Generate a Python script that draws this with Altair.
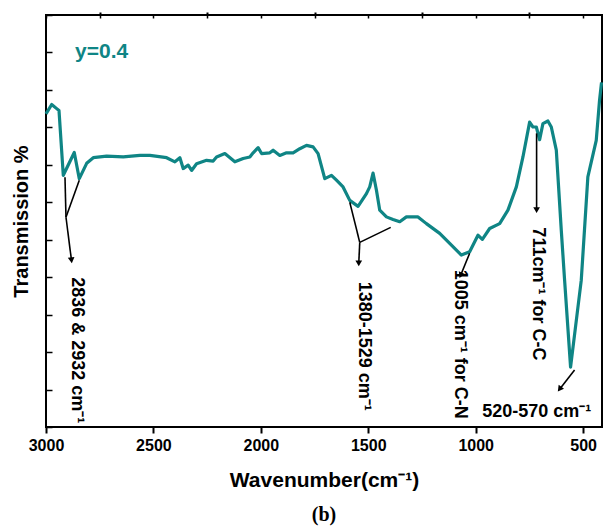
import altair as alt
import pandas as pd

# FTIR spectrum
wavenumber = [3000, 2973.5, 2950.2, 2939.5, 2919.5, 2868.4, 2845.1, 2810.7, 2780.0, 2717.7,
              2640.5, 2563.0, 2516.3, 2438.6, 2400.0, 2376.8, 2361.4, 2338.2, 2322.3, 2299.1,
              2252.6, 2221.9, 2206.1, 2167.5, 2121.0, 2082.3, 2051.2, 2035.8, 2012.6, 1996.8,
              1958.2, 1942.8, 1911.7, 1880.5, 1849.8, 1818.6, 1787.5, 1756.8, 1733.5, 1702.4,
              1671.2, 1648.0, 1617.3, 1586.1, 1547.5, 1508.4, 1493.1, 1477.7, 1461.9, 1446.5,
              1415.4, 1384.7, 1353.5, 1322.4, 1268.4, 1229.4, 1167.5, 1121.0, 1066.6, 1028.0,
              989.4, 968.9, 934.9, 888.4, 849.8, 810.7, 780.0, 748.9, 733.5, 717.7,
              702.3, 687.0, 663.8, 648.0, 624.7, 601.5, 586.1, 558.3, 508.5, 477.8,
              438.8, 423.5, 414.2]
transmission = [8.36, 8.61, 8.50, 8.45, 6.72, 7.33, 6.63, 7.04, 7.19, 7.23,
                7.21, 7.25, 7.25, 7.19, 7.08, 7.19, 6.90, 6.99, 6.85, 7.03,
                7.12, 7.10, 7.21, 7.30, 7.08, 7.17, 7.21, 7.32, 7.46, 7.30,
                7.32, 7.39, 7.25, 7.32, 7.32, 7.43, 7.52, 7.48, 7.30, 6.63,
                6.72, 6.59, 6.41, 6.05, 5.89, 6.23, 6.41, 6.78, 6.32, 5.79,
                5.61, 5.54, 5.48, 5.61, 5.61, 5.43, 5.17, 4.90, 4.59, 4.68,
                5.12, 5.01, 5.30, 5.43, 5.79, 6.41, 7.21, 8.14, 8.01, 8.01,
                7.67, 8.10, 8.17, 8.01, 7.39, 5.25, 3.92, 1.60, 3.92, 6.68,
                7.65, 8.72, 9.20]

# annotation leader lines (data units)
seg_x1 = [2911.6, 2845.1, 2907.0, 1586.1, 1395.4, 1539.6, 1028.0, 716.4, 539.6]
seg_y1 = [6.67, 6.59, 5.60, 6.00, 5.33, 4.93, 4.64, 7.84, 1.52]
seg_x2 = [2907.0, 2907.0, 2881.4, 1539.6, 1539.6, 1544.2, 1069.8, 716.4, 609.4]
seg_y2 = [5.60, 5.60, 4.45, 4.93, 4.93, 4.37, 4.05, 5.79, 1.01]

# arrow heads
tip_x = [2881.4, 1544.2, 1069.8, 716.4, 609.4]
tip_y = [4.45, 4.37, 4.05, 5.79, 1.01]
tip_angle = [353, 0, 24, 0, 37]

# rotated labels
vlabels = ["2836 & 2932 cm\u207b\u00b9", "1380-1529 cm\u207b\u00b9",
           "1005 cm\u207b\u00b9 for C-N", "711cm\u207b\u00b9 for C-C"]
vlabel_x = [2855.8, 1520.0, 1074.5, 711.7]
vlabel_y = [4.00, 3.88, 4.2, 5.33]

hlabel = ["520-570 cm\u207b\u00b9"]
hlabel_x = [716]
hlabel_y = [0.4]

sample = ["y=0.4"]
sample_x = [2865]
sample_y = [10.0]

x_major = [3000, 2500, 2000, 1500, 1000, 500]
x_minor = [2750, 2250, 1750, 1250, 750]
x_all = [3000, 2750, 2500, 2250, 2000, 1750, 1500, 1250, 1000, 750, 500]
y_ticks = list(range(0, 12))

TEAL = "#0f8585"
FONT = "Liberation Sans"

spec_df = pd.DataFrame({"wn": wavenumber, "t": transmission})
seg_df = pd.DataFrame({"x1": seg_x1, "y1": seg_y1, "x2": seg_x2, "y2": seg_y2})
tip_df = pd.DataFrame({"x": tip_x, "y": tip_y, "a": tip_angle})
vl_df = pd.DataFrame({"x": vlabel_x, "y": vlabel_y, "txt": vlabels})
hl_df = pd.DataFrame({"x": hlabel_x, "y": hlabel_y, "txt": hlabel})
s_df = pd.DataFrame({"x": sample_x, "y": sample_y, "txt": sample})

xscale = alt.Scale(domain=[3000, 412], nice=False, zero=False)
yscale = alt.Scale(domain=[0, 11], nice=False, zero=False)

xaxis = alt.Axis(
    title="Wavenumber(cm\u207b\u00b9)", values=x_major, format="d", tickSize=6,
    labelFont=FONT, labelFontSize=16, labelFontWeight="bold", labelColor="black",
    titleFont=FONT, titleFontSize=21, titleFontWeight="bold", titleColor="black",
    labelPadding=4, titlePadding=16, domain=False, grid=False,
    tickColor="black", tickWidth=2, labelFlush=False, labelOverlap=False,
)
minor_axis = alt.Axis(
    title=None, values=x_minor, labels=False, tickSize=3, domain=False, grid=False,
    tickColor="black", tickWidth=2,
)
yaxis = alt.Axis(
    title="Transmission %", values=y_ticks, labels=False, offset=-6, tickSize=6,
    domain=False, grid=False, tickColor="black", tickWidth=1.5,
    titleFont=FONT, titleFontSize=20, titleFontWeight="bold", titleColor="black",
    titlePadding=14,
)
topaxis = alt.Axis(orient="top", title=None, values=x_all, labels=False, offset=-3,
                   tickSize=3, domain=False, grid=False, tickColor="black", tickWidth=1.5)

line = alt.Chart(spec_df).mark_line(color=TEAL, strokeWidth=3.2, strokeJoin="round").encode(
    x=alt.X("wn:Q", scale=xscale, axis=xaxis),
    y=alt.Y("t:Q", scale=yscale, axis=yaxis),
)

segs = alt.Chart(seg_df).mark_rule(color="black", strokeWidth=1.6).encode(
    x=alt.X("x1:Q", scale=xscale, axis=minor_axis), x2="x2:Q",
    y=alt.Y("y1:Q", scale=yscale, axis=None), y2="y2:Q",
)

tips = alt.Chart(tip_df).mark_point(shape="triangle-down", filled=True, size=45,
                                    color="black", opacity=1).encode(
    x=alt.X("x:Q", scale=xscale, axis=topaxis), y=alt.Y("y:Q", scale=yscale, axis=None),
    angle=alt.Angle("a:Q", scale=None),
)

vtext = alt.Chart(vl_df).mark_text(angle=90, align="left", baseline="middle",
                                   font=FONT, fontSize=18, fontWeight="bold",
                                   color="black").encode(
    x=alt.X("x:Q", scale=xscale, axis=None), y=alt.Y("y:Q", scale=yscale, axis=None),
    text="txt:N",
)

htext = alt.Chart(hl_df).mark_text(align="center", baseline="middle",
                                   font=FONT, fontSize=18, fontWeight="bold",
                                   color="black").encode(
    x=alt.X("x:Q", scale=xscale, axis=None), y=alt.Y("y:Q", scale=yscale, axis=None),
    text="txt:N",
)

stext = alt.Chart(s_df).mark_text(align="left", baseline="middle",
                                  font=FONT, fontSize=21, fontWeight="bold",
                                  color=TEAL).encode(
    x=alt.X("x:Q", scale=xscale, axis=None), y=alt.Y("y:Q", scale=yscale, axis=None),
    text="txt:N",
)

chart = alt.layer(line, segs, tips, vtext, htext, stext).resolve_axis(
    x="independent", y="independent"
).properties(
    width=556, height=412,
    background="white",
    autosize=alt.AutoSizeParams(type="none"),
    padding={"left": 46, "top": 15, "right": 1, "bottom": 102},
    title=alt.TitleParams("(b)", orient="bottom", font="Liberation Serif",
                          fontSize=20, fontWeight="bold", color="black", offset=15),
).configure_view(stroke="black", strokeWidth=2)

chart.save("out.html", embed_options={"renderer": "svg", "actions": False})
